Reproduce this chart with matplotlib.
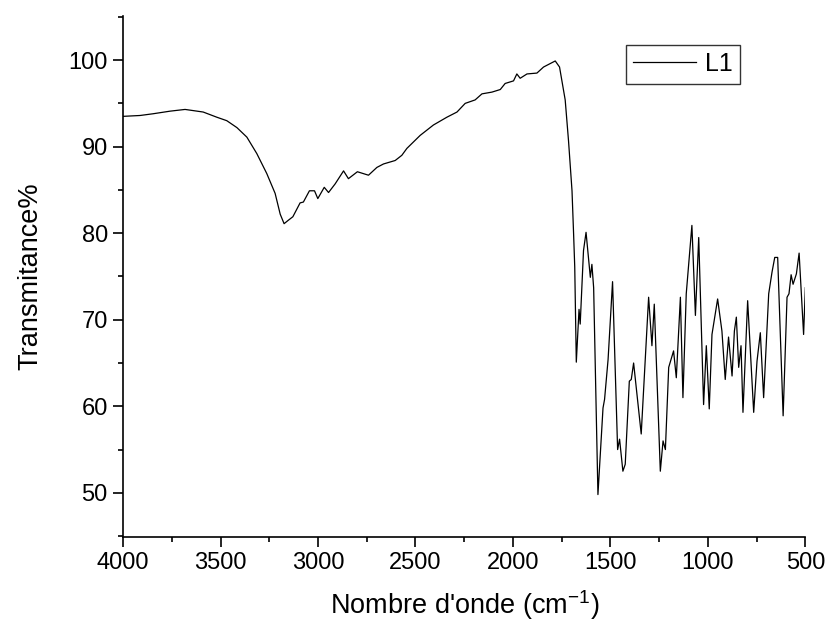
import numpy as np
import matplotlib
matplotlib.use('Agg')
import matplotlib.pyplot as plt
from matplotlib.ticker import MultipleLocator

plt.rcParams['font.family'] = ['Liberation Sans', 'DejaVu Sans']
plt.rcParams['mathtext.default'] = 'regular'

# FTIR spectrum L1
wavenumber = [4000, 3913, 3846, 3759, 3682, 3589, 3519, 3468, 3416, 3365,
              3314, 3263, 3220, 3194, 3174, 3152, 3129, 3092, 3075, 3044,
              3018, 3001, 2968, 2946, 2912, 2869, 2844, 2798, 2741, 2698,
              2664, 2604, 2570, 2544, 2476, 2408, 2339, 2287, 2245, 2194,
              2159, 2108, 2065, 2040, 1997, 1980, 1963, 1928, 1877, 1843,
              1783, 1761, 1732, 1715, 1697, 1689, 1683, 1675, 1661, 1655,
              1638, 1625, 1603, 1595, 1586, 1564, 1538, 1530, 1512, 1489,
              1463, 1453, 1436, 1424, 1403, 1393, 1381, 1342, 1304, 1287,
              1275, 1244, 1230, 1218, 1201, 1176, 1162, 1141, 1128, 1111,
              1082, 1064, 1047, 1022, 1008, 993, 979, 950, 928, 911,
              894, 876, 864, 854, 842, 830, 820, 796, 765, 748,
              731, 714, 688, 671, 657, 642, 614, 594, 584, 573,
              563, 546, 532, 509, 500]
transmittance = [93.5, 93.6, 93.8, 94.1, 94.3, 94.0, 93.4, 93.0, 92.2, 91.1,
                 89.2, 86.9, 84.6, 82.2, 81.1, 81.5, 81.9, 83.5, 83.6, 84.9,
                 84.9, 84.0, 85.3, 84.7, 85.7, 87.2, 86.3, 87.1, 86.7, 87.6,
                 88.0, 88.4, 89.0, 89.8, 91.3, 92.5, 93.4, 94.0, 95.0, 95.4,
                 96.1, 96.3, 96.6, 97.3, 97.6, 98.4, 97.9, 98.4, 98.5, 99.2,
                 99.9, 99.2, 95.4, 90.7, 84.9, 80.0, 76.1, 65.1, 71.2, 69.5,
                 78.0, 80.1, 74.9, 76.4, 73.7, 49.8, 59.8, 60.8, 65.4, 74.4,
                 55.0, 56.2, 52.5, 53.3, 62.9, 63.1, 65.0, 56.8, 72.6, 67.0,
                 71.8, 52.5, 56.0, 55.0, 64.5, 66.4, 63.3, 72.6, 61.0, 73.0,
                 80.9, 70.5, 79.5, 60.2, 67.0, 59.7, 68.3, 72.4, 68.7, 63.1,
                 68.0, 63.5, 68.7, 70.3, 64.5, 67.0, 59.3, 72.2, 59.3, 65.2,
                 68.5, 61.0, 73.0, 75.5, 77.2, 77.2, 58.9, 72.6, 73.0, 75.2,
                 74.1, 75.3, 77.7, 68.3, 73.7]

fig = plt.figure(figsize=(8.26, 6.21), dpi=100)
ax = fig.add_axes([0.149, 0.1353, 0.826, 0.839])

ax.plot(wavenumber, transmittance, color='black', linewidth=0.9, label='L1')

ax.set_xlim(4000, 500)
ax.set_ylim(44.9, 105.1)
ax.xaxis.set_major_locator(MultipleLocator(500))
ax.xaxis.set_minor_locator(MultipleLocator(250))
ax.yaxis.set_major_locator(MultipleLocator(10))
ax.yaxis.set_minor_locator(MultipleLocator(5))

ax.spines['top'].set_visible(False)
ax.spines['right'].set_visible(False)
ax.spines['left'].set_linewidth(1.2)
ax.spines['bottom'].set_linewidth(1.2)
ax.tick_params(which='major', direction='out', length=7, width=1.2,
               labelsize=17, pad=4)
ax.tick_params(which='minor', direction='out', length=3.6, width=1.2)

ax.set_xlabel("Nombre d'onde (cm$^{-1}$)", fontsize=19.5, labelpad=10)
ax.set_ylabel('Transmitance%', fontsize=19.5, labelpad=18)

leg = ax.legend(loc='upper left', bbox_to_anchor=(0.737, 0.945), fontsize=18,
                frameon=True, fancybox=False, handlelength=2.5,
                borderpad=0.3, handletextpad=0.35, borderaxespad=0)
leg.get_frame().set_edgecolor('black')
leg.get_frame().set_linewidth(1.0)

fig.savefig('out.png', dpi=100)
